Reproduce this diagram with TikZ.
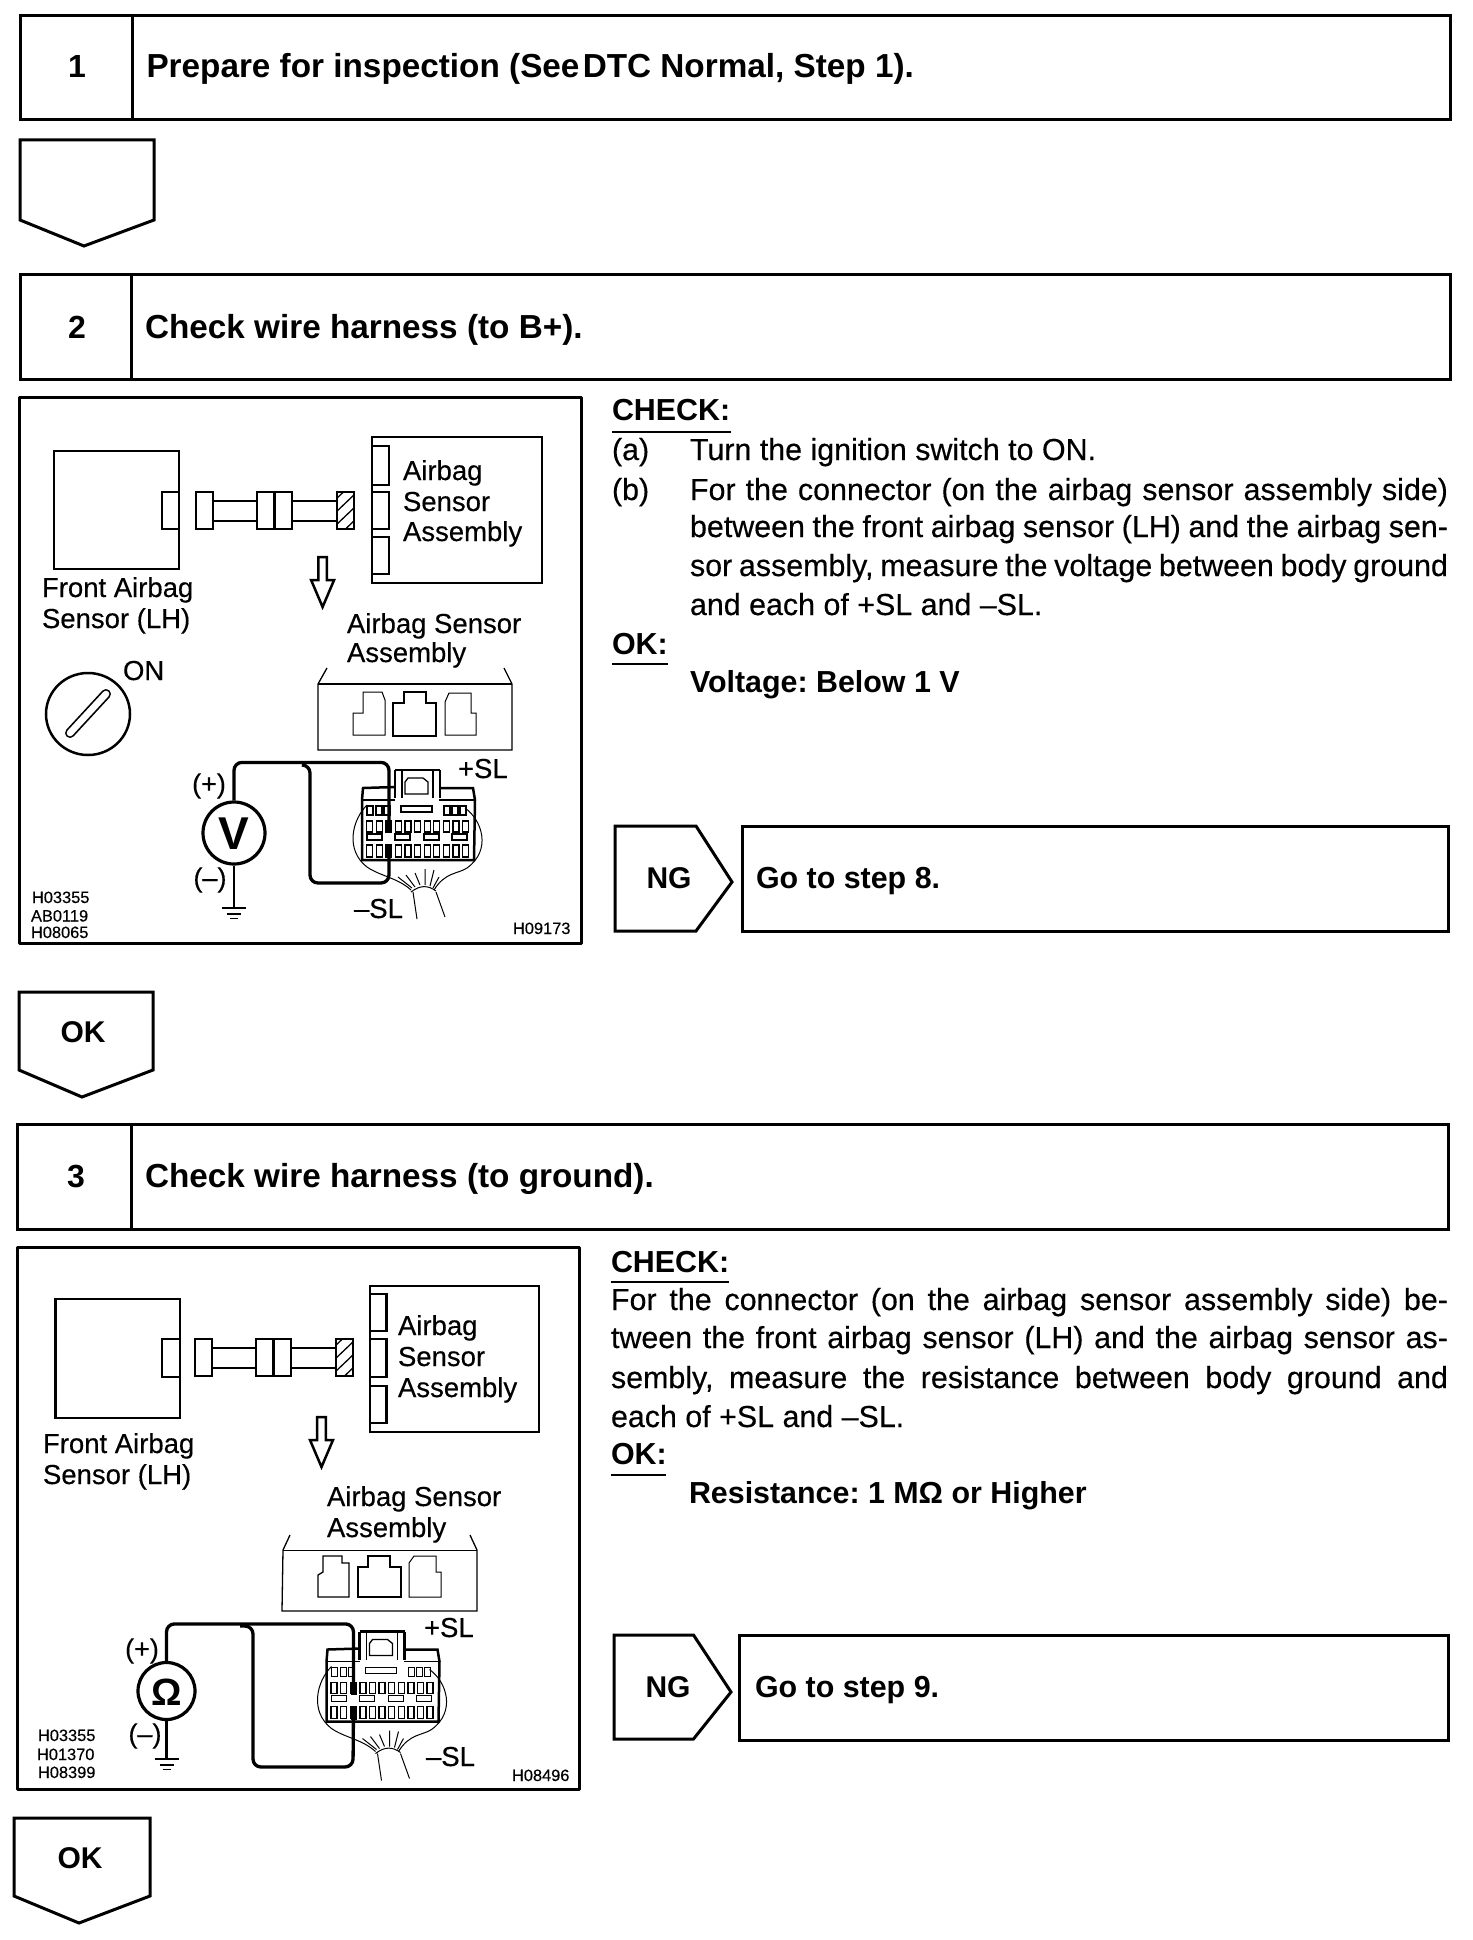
\documentclass[tikz,border=0pt]{standalone}
\usepackage{fontspec}
\setmainfont{Liberation Sans}[FakeBold=0.35,BoldFont={Liberation Sans Bold},BoldFeatures={FakeBold=0}]
\frenchspacing
\newcommand{\fs}[1]{\fontsize{#1}{#1}\selectfont}
\newcommand{\jl}[2]{\makebox[#1pt][s]{#2}}
\tikzset{
  boxln/.style={line width=3pt,line join=miter,fill=white},
  panelln/.style={line width=3pt,line join=round},
  med/.style={line width=2.5pt},
  thinln/.style={line width=1.3pt},
  hair/.style={line width=1pt},
  wire/.style={line width=3.3pt,rounded corners=8pt},
  lbase/.style={anchor=base west,inner sep=0pt,outer sep=0pt},
  head/.style={lbase,font=\fs{33.3}\bfseries},
  headnum/.style={anchor=base,inner sep=0pt,font=\fs{32}\bfseries},
  bodyt/.style={lbase,font=\fs{30.4}},
  bodyb/.style={lbase,font=\fs{30.4}\bfseries},
  tag/.style={anchor=base,inner sep=0pt,font=\fs{30}\bfseries},
  fig/.style={lbase,font=\fs{27.5}},
  figc/.style={anchor=center,inner sep=0pt,font=\fs{27}},
  slt/.style={lbase,font=\fs{27.5}},
  code/.style={lbase,font=\fs{16.4}},
  meter/.style={circle,draw,line width=3.2pt,inner sep=0pt,fill=white},
  pics/inline/.style={code={
    \draw[med,fill=white] (196,492) rectangle (213,529);
    \draw[med] (213,501) -- (257,501) (213,521) -- (257,521);
    \draw[med,fill=white] (257,492) rectangle (292,529);
    \draw[med] (274.5,492) -- (274.5,529);
    \draw[med] (292,501) -- (337,501) (292,521) -- (337,521);
    \begin{scope}
      \clip (337,492) rectangle (354,529);
      \foreach \d in {0,13,26,39} \draw[thinln] (335,{500+\d}) -- (356,{480+\d});
    \end{scope}
    \draw[med] (337,492) rectangle (354,529);
  }},
  pics/arrowdown/.style={code={
    \draw[med,line join=miter,miter limit=6] (-4.3,0) -- (-4.3,23) -- (-11.5,23) -- (0,50) -- (11.5,23) -- (4.3,23) -- (4.3,0) -- cycle;
  }},
  pics/gnd/.style={code={
    \draw[line width=2.6pt] (-12,0) -- (12,0);
    \draw[thinln] (-7,6) -- (7,6);
    \draw[hair] (-4,10) -- (4,10);
  }},
  pics/conn/.style={code={
    % shell
    \draw[med] (395,787) -- (363,788) -- (362,800) -- (362,860) -- (474,860) -- (475,800) -- (473,788) -- (439,788);
    \draw[thinln] (362,800) -- (395,800) (439,800) -- (475,800);
    % latch and tab
    \draw[line width=2.8pt] (395,770) -- (440,770);
    \draw[med] (395,770) -- (395,798) (440,770) -- (440,798);
    \draw[thinln] (402,770) -- (402,798) (433,770) -- (433,798);
    \draw[thinln] (408,778) -- (423,778) -- (428,782) -- (428,794) -- (405,794) -- (405,782) -- cycle;
    % slots
    \foreach \x in {367,376,384,444,452,460} \draw[thinln] (\x,806) rectangle ++(6,9);
    \draw[thinln] (401,806) rectangle (432,812);
    \foreach \k in {0,...,10} {
      \draw[thinln] ({366.6+9.6*\k},821) rectangle ++(6,11);
      \draw[thinln] ({366.6+9.6*\k},845) rectangle ++(6,12);
    }
    \foreach \x in {367,395,424,452} \draw[thinln] (\x,834) rectangle ++(15,6);
    \fill (386,820) rectangle (392,833);
    \fill (386,845) rectangle (392,858);
    \coordinate (pinA) at (389,825);
    \coordinate (pinB) at (389,850);
    % harness
    \draw[hair] (367,805) .. controls (352,820) and (345,850) .. (367,867) .. controls (380,876) and (398,878) .. (411,890);
    \draw[hair] (465,808) .. controls (482,820) and (492,850) .. (467,868) .. controls (458,874) and (445,872) .. (434,890);
    \draw[hair] (398,877) -- (412,888) (406,875) -- (415,887) (415,873) -- (420,885) (425,869) -- (425,885) (434,870) -- (430,886) (439,877) -- (433,888);
    \draw[hair] (411,892) .. controls (420,885) and (428,885) .. (436,891);
    \draw[hair] (413,892) -- (417,919) (436,892) -- (445,917);
  }},
}
\begin{document}
\begin{tikzpicture}[x=1pt,y=-1pt]
\useasboundingbox (0,0) rectangle (1472,1940);
\fill[white] (0,0) rectangle (1472,1940);

% ---------- step 1
\draw[boxln] (20,16) rectangle (1450,120);
\draw[boxln] (132,16) -- (132,120);
\node[headnum] (n1) at (77,78) {1};
\node[head] (h1) at (146.5,78) {Prepare for inspection (See\hspace{-6pt} DTC Normal, Step 1).};
\draw[boxln] (20,140) -- (154,140) -- (154,220) -- (84,246) -- (20,220) -- cycle;

% ---------- step 2
\draw[boxln] (20,274) rectangle (1450,379);
\draw[boxln] (131,274) -- (131,379);
\node[headnum] (n2) at (77,338) {2};
\node[head] (h2) at (145,338) {Check wire harness (to B+).};

\draw[panelln] (19,397) rectangle (581,943);
% top schematic
\draw[med] (54,451) rectangle (179,569);
\draw[med] (179,492) -- (162,492) -- (162,529) -- (179,529);
\pic (ia) {inline};
\draw[med] (372,437) rectangle (542,583);
\foreach \a/\b in {446/485,492/529,537/574} \draw[med] (372,\a) -- (389,\a) -- (389,\b) -- (372,\b);
\node[fig] (a1) at (403,480) {Airbag};
\node[fig] (a2) at (403,511) {Sensor};
\node[fig] (a3) at (403,541) {Assembly};
\node[fig] (f1) at (42,597) {Front Airbag};
\node[fig] (f2) at (42,628) {Sensor (LH)};
\pic at (322.6,557) {arrowdown};
\node[fig] (s1) at (347,633) {Airbag Sensor};
\node[fig] (s2) at (347,662) {Assembly};
% key
\node[fig] (on) at (123,680) {ON};
\draw[med] (88,714) ellipse [x radius=42,y radius=41];
\draw[line width=10pt,line cap=round] (106,694) -- (70,733);
\draw[line width=6.6pt,line cap=round,white] (106,694) -- (70,733);
% housing
\draw[thinln] (327,668) -- (318,684) -- (318,750) -- (512,750) -- (512,684) -- (504,668);
\draw[thinln] (318,684) -- (512,684);
\draw[hair] (353,735) -- (353,713) -- (363,713) -- (363,692) -- (382,692) -- (385,700) -- (385,735) -- cycle;
\draw[line width=2.6pt] (393,736) -- (393,703) -- (404,703) -- (404,692) -- (426,692) -- (426,703) -- (436,703) -- (436,736) -- cycle;
\draw[hair] (445,735) -- (445,702) -- (449,693) -- (471,693) -- (471,713) -- (476,713) -- (476,735) -- cycle;
% measurement
\pic (ca) {conn};
\node[meter,minimum size=62pt] (vm) at (234,833) {};
\node[anchor=center,inner sep=0pt,font=\fs{46}\bfseries] (vt) at (234,834) {V};
\coordinate (tee1) at (303,765);
\draw[wire] (vm.north) -- ++(0,-38) -| (capinA);
\draw[wire] (tee1) -- (310,765) -- (310,883) -- (389,883) -- (capinB);
\pic (ga) at (234,908) {gnd};
\coordinate (gndA) at (234,908);
\draw[line width=2.8pt] (vm.south) -- (gndA);
\node[figc] (pa) at (209,786) {(+)};
\node[figc] (ma) at (210,880) {(–)};
\node[slt] (psl) at (458,778) {+SL};
\node[slt] (msl) at (354,918) {–SL};
\node[code] (c1) at (32,903) {H03355};
\node[code] (c2) at (31,921.5) {AB0119};
\node[code] (c3) at (31,938) {H08065};
\node[code] (c4) at (513,934) {H09173};

% right column step 2
\node[bodyb] (ck2) at (612,420) {CHECK:};
\draw[line width=2pt] (612,432) -- (731,432);
\node[bodyt] (la) at (612,460) {(a)};
\node[bodyt] (lat) at (690,460) {Turn the ignition switch to ON.};
\node[bodyt] (lb) at (612,500) {(b)};
\node[bodyt] (l1) at (690,500) {\jl{758}{For the connector (on the airbag sensor assembly side)}};
\node[bodyt] (l2) at (690,537) {\jl{758}{between the front airbag sensor (LH) and the airbag sen-}};
\node[bodyt] (l3) at (690,576) {\jl{758}{sor assembly, measure the voltage between body ground}};
\node[bodyt] (l4) at (690,615) {and each of +SL and –SL.};
\node[bodyb] (ok2) at (612,654) {OK:};
\draw[line width=2pt] (612,664) -- (668,664);
\node[bodyb] (v2) at (690,692) {Voltage: Below 1 V};
\draw[boxln] (615,826) -- (696,826) -- (732,882) -- (696,931) -- (615,931) -- cycle;
\node[tag] (ng2) at (669,888) {NG};
\draw[boxln] (742,826) rectangle (1448,931);
\node[bodyb] (go2) at (756,888) {Go to step 8.};

\draw[boxln] (19,992) -- (153,992) -- (153,1070) -- (82,1097) -- (19,1070) -- cycle;
\node[tag] (ok3a) at (83,1042) {OK};

% ---------- step 3
\draw[boxln] (17.5,1124) rectangle (1448,1229);
\draw[boxln] (131,1124) -- (131,1229);
\node[headnum] (n3) at (76,1187) {3};
\node[head] (h3) at (145,1187) {Check wire harness (to ground).};

\draw[panelln] (17,1247) rectangle (579,1789);
\draw[med] (55.5,1299) rectangle (180,1418);
\draw[med] (179,1339) -- (162,1339) -- (162,1377) -- (179,1377);
\pic[shift={(-1,847)}] (ib) {inline};
\draw[med] (370,1286) rectangle (539,1432);
\foreach \a/\b in {1294/1331,1339/1377,1386/1423} \draw[med] (370,\a) -- (386.5,\a) -- (386.5,\b) -- (370,\b);
\node[fig] (b1) at (398,1335) {Airbag};
\node[fig] (b2) at (398,1366) {Sensor};
\node[fig] (b3) at (398,1397) {Assembly};
\node[fig] (g1) at (43,1453) {Front Airbag};
\node[fig] (g2) at (43,1484) {Sensor (LH)};
\pic at (321.5,1417) {arrowdown};
\node[fig] (t1) at (327,1506) {Airbag Sensor};
\node[fig] (t2) at (327,1537) {Assembly};
\draw[thinln] (290,1535) -- (283,1550) -- (282,1611) -- (477,1611) -- (477,1550) -- (470,1535);
\draw[hair] (283,1550) -- (477,1550);
\draw[thinln] (318,1597) -- (318,1575) -- (323,1572) -- (323,1556) -- (342,1556) -- (342,1563) -- (349,1563) -- (349,1597) -- cycle;
\draw[med] (358,1597) -- (358,1567) -- (368,1567) -- (368,1556) -- (390,1556) -- (390,1567) -- (401,1567) -- (401,1597) -- cycle;
\draw[hair] (409,1597) -- (409,1563) -- (414,1556) -- (436,1556) -- (436,1572) -- (441,1572) -- (441,1597) -- cycle;
\pic[shift={(-35.5,861.5)}] (cb) {conn};
\node[meter,minimum size=57pt] (om) at (166.5,1691) {};
\node[anchor=center,inner sep=0pt,font=\fs{38}\bfseries] (ot) at (166.5,1692) {Ω};
\coordinate (tee2) at (240,1626);
\draw[wire] (om.north) -- ++(0,-37) -| (cbpinA);
\draw[wire] (tee2) -- (253,1626) -- (253,1767) -- (353,1767) -- (cbpinB);
\pic (gb) at (166.5,1759) {gnd};
\coordinate (gndB) at (166.5,1759);
\draw[line width=2.8pt] (om.south) -- (gndB);
\node[figc] (pb) at (142,1651) {(+)};
\node[figc] (mb) at (145,1736) {(–)};
\node[slt] (psl2) at (424,1637) {+SL};
\node[slt] (msl2) at (426,1766) {–SL};
\node[code] (d1) at (38,1741) {H03355};
\node[code] (d2) at (37,1760) {H01370};
\node[code] (d3) at (38,1778) {H08399};
\node[code] (d4) at (512,1781) {H08496};

% right column step 3
\node[bodyb] (ck3) at (611,1272) {CHECK:};
\draw[line width=2pt] (611,1282) -- (729,1282);
\node[bodyt] (r1) at (611,1310) {\jl{837}{For the connector (on the airbag sensor assembly side) be-}};
\node[bodyt] (r2) at (611,1348) {\jl{837}{tween the front airbag sensor (LH) and the airbag sensor as-}};
\node[bodyt] (r3) at (611,1388) {\jl{837}{sembly, measure the resistance between body ground and}};
\node[bodyt] (r4) at (611,1427) {each of +SL and –SL.};
\node[bodyb] (ok3) at (611,1464) {OK:};
\draw[line width=2pt] (611,1475) -- (666,1475);
\node[bodyb] (v3) at (689,1503) {Resistance: 1 MΩ or Higher};
\draw[boxln] (614,1635) -- (693.5,1635) -- (731,1692) -- (693.5,1739) -- (614,1739) -- cycle;
\node[tag] (ng3) at (668,1697) {NG};
\draw[boxln] (739,1635) rectangle (1448,1740);
\node[bodyb] (go3) at (755,1697) {Go to step 9.};

\draw[boxln] (14,1818) -- (150,1818) -- (150,1896) -- (79,1923) -- (14,1896) -- cycle;
\node[tag] (ok4) at (80,1868) {OK};
\end{tikzpicture}
\end{document}
